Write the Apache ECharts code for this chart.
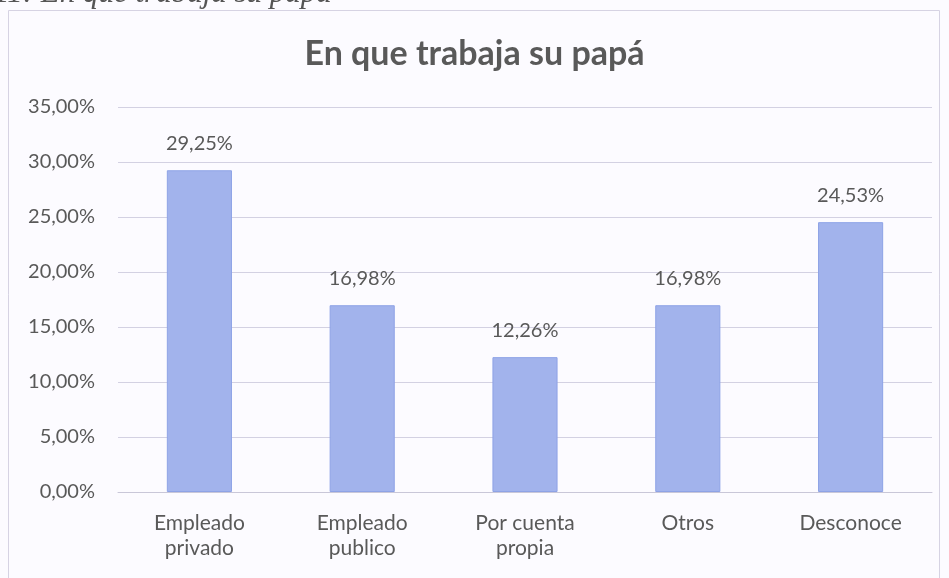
<!DOCTYPE html>
<html><head><meta charset="utf-8">
<script src="https://cdn.jsdelivr.net/npm/echarts@6/dist/echarts.min.js"></script>
<style>html,body{margin:0;padding:0;background:#fcfbff;}#c{width:949px;height:578px;}</style>
</head><body><div id="c"></div>
<script>
const categories = ['Empleado\nprivado', 'Empleado\npublico', 'Por cuenta\npropia', 'Otros', 'Desconoce'];
const values = [29.25, 16.98, 12.26, 16.98, 24.53];
const chartTitle = 'En que trabaja su papá';
const captionText = '11: En que trabaja su papá';
const fmt = v => v.toFixed(2).replace('.', ',') + '%';
const chart = echarts.init(document.getElementById('c'));
chart.setOption({
  backgroundColor: '#fcfbff',
  title: { text: chartTitle, left: 'center', top: 32, textStyle: { fontFamily: 'Lato', fontSize: 34, fontWeight: 'bold', color: '#595959' } },
  graphic: [
    { type: 'rect', shape: { x: 8.5, y: 10.5, width: 931, height: 580 }, style: { fill: 'none', stroke: '#d6d3e3', lineWidth: 1 }, silent: true },
    { type: 'text', left: -6, top: -22, style: { text: captionText, font: 'italic 31px "Liberation Serif"', fill: '#555' }, silent: true }
  ],
  grid: { left: 118, right: 17, top: 107, bottom: 86, containLabel: false },
  xAxis: {
    type: 'category', data: categories,
    axisLine: { lineStyle: { color: '#c9c7d8' } }, axisTick: { show: false },
    axisLabel: { fontFamily: 'Lato', fontSize: 21, color: '#595959', lineHeight: 25, margin: 19 }
  },
  yAxis: {
    type: 'value', min: 0, max: 35, interval: 5,
    axisLine: { show: false }, axisTick: { show: false },
    axisLabel: { fontFamily: 'Lato', fontSize: 20, color: '#595959', margin: 23, formatter: v => fmt(v) },
    splitLine: { lineStyle: { color: '#d3d1e2' } }
  },
  series: [{
    type: 'bar', data: values, barWidth: '40%',
    itemStyle: { color: '#a2b3ec', borderColor: '#8ea3e6', borderWidth: 1 },
    label: { show: true, position: 'top', distance: 17, fontFamily: 'Lato', fontSize: 20, color: '#595959', formatter: p => fmt(p.value) }
  }]
});
</script></body></html>
